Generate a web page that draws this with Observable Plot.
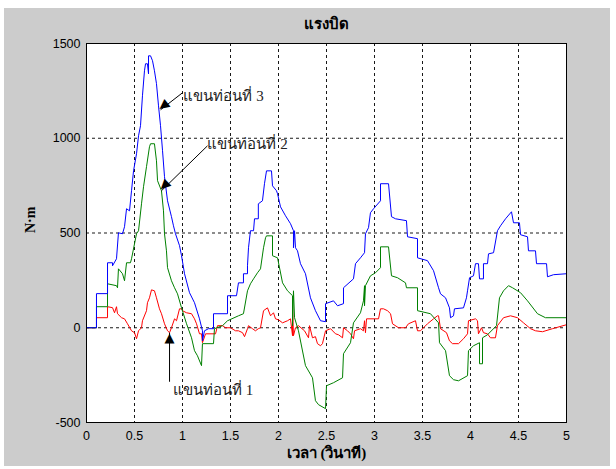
<!DOCTYPE html>
<html>
<head>
<meta charset="utf-8">
<script src="https://cdn.jsdelivr.net/npm/d3@7"></script>
<script src="https://cdn.jsdelivr.net/npm/@observablehq/plot@0.6"></script>
<style>
  html, body { margin: 0; padding: 0; background: #ffffff; }
  #chart { position: absolute; left: 4px; top: 8px; }
  #chart svg { background: #cccccc; }
</style>
</head>
<body>
<div id="chart"></div>
<script>
// ---- data (time in seconds, torque in N·m) ----
const title = "แรงบิด";
const xLabel = "เวลา (วินาที)";
const yLabel = "N·m";
const xTicks = [0, 0.5, 1, 1.5, 2, 2.5, 3, 3.5, 4, 4.5, 5];
const yTicks = [-500, 0, 500, 1000, 1500];

// arm 3 (blue)
const t3 = [0,0.104,0.104,0.219,0.219,0.271,0.271,0.3125,0.333,0.375,0.396,0.417,0.448,0.469,0.49,0.521,0.542,0.5625,0.583,0.604,0.615,0.635,0.646,0.646,0.667,0.6875,0.708,0.729,0.75,0.771,0.792,0.8125,0.844,0.885,0.906,0.927,0.969,0.99,1.021,1.073,1.125,1.177,1.208,1.208,1.229,1.271,1.323,1.323,1.469,1.469,1.5625,1.583,1.635,1.635,1.677,1.677,1.6875,1.708,1.74,1.75,1.79,1.79,1.833,1.854,1.875,1.927,1.9375,1.979,1.99,2.021,2.073,2.125,2.156,2.156,2.167,2.177,2.198,2.229,2.281,2.333,2.385,2.4375,2.49,2.49,2.573,2.615,2.677,2.677,2.781,2.802,2.854,2.896,2.906,2.9375,2.958,2.99,3.0625,3.0625,3.146,3.177,3.219,3.333,3.344,3.448,3.448,3.552,3.615,3.667,3.6875,3.74,3.781,3.792,3.823,3.833,3.927,3.958,3.969,3.99,4.031,4.052,4.083,4.094,4.135,4.135,4.177,4.1875,4.24,4.281,4.3125,4.365,4.427,4.448,4.51,4.521,4.594,4.604,4.677,4.6875,4.792,4.802,4.865,5];
const v3 = [0,0,180,180,343,343,327,364,501,496,533,628,617,723,828,918,1013,1066,1224,1356,1393,1393,1340,1435,1435,1409,1356,1288,1171,1066,934,797,670,586,538,496,433,380,285,185,132,47,-16,-69,-16,-5,-5,74,74,169,169,237,237,285,285,327,422,512,512,575,575,654,670,760,828,828,749,723,707,638,591,549,512,422,512,422,406,338,285,158,90,37,32,127,142,116,127,211,258,338,369,396,496,528,607,628,670,760,760,586,575,565,480,470,369,354,301,211,179,158,105,53,63,100,105,158,195,264,274,338,338,258,258,338,338,390,396,512,538,575,612,554,554,491,480,406,406,338,338,269,280,285];

// arm 2 (green)
const t2 = [0,0.104,0.104,0.219,0.219,0.3125,0.323,0.333,0.375,0.396,0.417,0.458,0.469,0.5,0.521,0.542,0.573,0.594,0.625,0.656,0.667,0.708,0.729,0.74,0.781,0.802,0.8125,0.833,0.844,0.885,0.917,0.948,0.99,1.042,1.094,1.125,1.156,1.198,1.208,1.323,1.333,1.417,1.469,1.583,1.635,1.677,1.708,1.74,1.781,1.8125,1.844,1.865,1.875,1.9375,1.9375,1.99,2.042,2.094,2.146,2.146,2.156,2.167,2.208,2.281,2.354,2.385,2.417,2.49,2.5,2.573,2.667,2.677,2.75,2.781,2.854,2.885,2.896,2.896,2.906,2.958,3.01,3.0625,3.0625,3.146,3.177,3.24,3.323,3.333,3.448,3.448,3.583,3.667,3.677,3.74,3.781,3.823,3.875,3.969,3.979,4.031,4.094,4.094,4.125,4.125,4.177,4.271,4.302,4.344,4.396,4.438,4.521,4.594,4.698,4.781,5];
const v2 = [0,0,111,111,232,222,211,311,285,248,343,343,364,443,496,512,654,744,850,955,971,971,881,776,723,617,496,406,317,248,211,179,105,21,-53,-121,-148,-200,-84,-84,-5,11,37,63,74,195,232,258,290,311,422,475,485,485,380,369,237,195,169,11,195,53,-16,-200,-264,-385,-406,-427,-306,-290,-264,-137,-79,26,79,142,222,116,222,274,290,317,427,427,274,264,237,211,211,90,74,26,-79,-121,-253,-274,-280,-253,-121,-95,-79,-190,-190,-53,-37,11,158,195,222,211,185,142,74,53,53];

// arm 1 (red)
const t1 = [0,0.104,0.104,0.219,0.219,0.271,0.292,0.3125,0.323,0.365,0.396,0.427,0.469,0.5,0.521,0.542,0.573,0.583,0.625,0.635,0.656,0.677,0.708,0.729,0.76,0.781,0.8125,0.844,0.865,0.885,0.917,0.9375,0.969,0.99,1.0,1.042,1.094,1.125,1.146,1.177,1.198,1.208,1.24,1.344,1.365,1.417,1.448,1.5,1.552,1.583,1.625,1.646,1.677,1.6875,1.729,1.76,1.79,1.8125,1.844,1.885,1.917,1.948,1.969,2.0,2.042,2.094,2.125,2.146,2.146,2.156,2.177,2.208,2.271,2.3125,2.323,2.354,2.385,2.406,2.4375,2.458,2.49,2.542,2.594,2.625,2.667,2.677,2.719,2.75,2.781,2.792,2.854,2.885,2.896,2.906,2.917,3.042,3.0625,3.094,3.135,3.167,3.1875,3.25,3.323,3.354,3.427,3.448,3.479,3.552,3.615,3.656,3.667,3.6875,3.75,3.781,3.8125,3.875,3.927,3.969,3.979,4.052,4.073,4.083,4.115,4.135,4.177,4.208,4.26,4.281,4.344,4.417,4.49,4.552,4.625,4.677,4.75,4.854,5];
const v1 = [0,0,53,53,111,106,79,111,74,53,47,21,-16,-26,-58,-16,0,37,90,132,158,200,195,158,100,74,21,-16,-26,0,47,37,100,100,90,79,74,47,21,-32,-32,-79,-32,-32,11,11,0,0,-16,-16,-26,-47,-5,11,-5,-16,-5,0,90,105,63,79,47,42,26,37,47,-42,116,-42,0,11,-16,-53,11,-53,-47,-84,-95,-84,-16,-5,-32,-37,-53,0,-16,-32,-58,-16,-5,-16,37,-26,47,47,100,100,90,74,21,0,0,21,37,-16,-16,21,47,63,63,-5,-26,-69,-84,-84,-58,-32,37,47,37,-32,0,-26,-32,-53,-53,11,53,63,53,26,-5,-16,-21,-5,16];

// annotations
const labelNames = ["แขนท่อนที่ 3", "แขนท่อนที่ 2", "แขนท่อนที่ 1"];
const labelT = [1.01, 1.26, 0.9];
const labelV = [1224, 971, -327];
const arrowFromT = [1.0, 1.26, 0.865];
const arrowFromV = [1240, 960, -285];
const arrowToT = [0.771, 0.781, 0.865];
const arrowToV = [1150, 723, -26];
const headT = [0.795, 0.805, 0.865];
const headV = [1168, 746, -55];
const arrowHeadAngle = [-128, -134, 0];

// ---- build tables ----
const toRows = (ts, vs) => ts.map((t, i) => ({t, v: vs[i]}));
const s3 = toRows(t3, v3), s2 = toRows(t2, v2), s1 = toRows(t1, v1);
const labels = labelNames.map((name, i) => ({name, t: labelT[i], v: labelV[i]}));
const arrows = arrowFromT.map((_, i) => ({
  x1: arrowFromT[i], y1: arrowFromV[i], x2: arrowToT[i], y2: arrowToV[i],
  hx: headT[i], hy: headV[i], a: arrowHeadAngle[i]
}));

const serif = "'Liberation Serif', 'DejaVu Serif', serif";
const sans = "'Liberation Sans', Arial, sans-serif";
const fmt = d => String(d);

const chart = Plot.plot({
  width: 606,
  height: 458,
  marginLeft: 82,
  marginRight: 44,
  marginTop: 35,
  marginBottom: 44,
  style: {background: "#cccccc", fontFamily: sans, fontSize: "12px", color: "#000"},
  x: {domain: [0, 5], ticks: xTicks, tickFormat: fmt, label: null},
  y: {domain: [-500, 1500], ticks: yTicks, tickFormat: fmt, label: null},
  marks: [
    Plot.frame({fill: "white"}),
    Plot.gridX(xTicks, {stroke: "black", strokeOpacity: 0.9, strokeDasharray: "3,3"}),
    Plot.gridY(yTicks, {stroke: "black", strokeOpacity: 0.9, strokeDasharray: "3,3"}),
    Plot.axisX(xTicks, {tickSize: 0, tickPadding: 9, fontSize: 12.5, fontFamily: sans, tickFormat: fmt, label: null}),
    Plot.axisY(yTicks, {tickSize: 0, tickPadding: 6, fontSize: 12.5, fontFamily: sans, tickFormat: fmt, label: null}),
    Plot.lineY(s1, {x: "t", y: "v", stroke: "#ff0000", strokeWidth: 1, curve: "linear"}),
    Plot.lineY(s2, {x: "t", y: "v", stroke: "#008000", strokeWidth: 1, curve: "linear"}),
    Plot.lineY(s3, {x: "t", y: "v", stroke: "#0000ff", strokeWidth: 1, curve: "linear"}),
    Plot.link(arrows, {x1: "x1", y1: "y1", x2: "x2", y2: "y2", stroke: "black", strokeWidth: 1}),
    Plot.text(arrows, {x: "hx", y: "hy", text: () => "▲", rotate: "a", fontSize: 13, fill: "black", fontFamily: "'DejaVu Sans', sans-serif", lineAnchor: "middle"}),
    Plot.text(labels, {x: "t", y: "v", text: "name", textAnchor: "start", fontSize: 15, fontFamily: serif, fill: "#222"}),
    Plot.frame({stroke: "black", strokeWidth: 1}),
    Plot.text([title], {frameAnchor: "top", dy: -25, fontSize: 15, fontWeight: "bold", fontFamily: sans, text: d => d}),
    Plot.text([xLabel], {frameAnchor: "bottom", dy: 35, fontSize: 15, fontWeight: "bold", fontFamily: serif, text: d => d}),
    Plot.text([yLabel], {frameAnchor: "left", dx: -56, rotate: -90, fontSize: 14, fontWeight: "bold", fontFamily: serif, text: d => d})
  ]
});
document.getElementById("chart").appendChild(chart);
</script>
</body>
</html>
